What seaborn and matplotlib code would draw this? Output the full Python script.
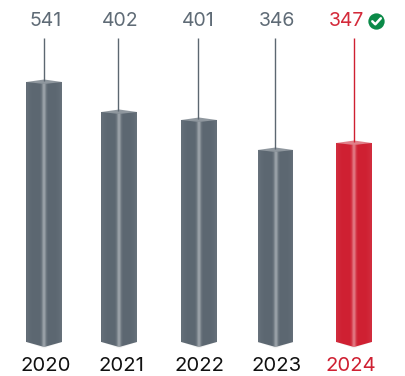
import numpy as np
import pandas as pd
import seaborn as sns
import matplotlib.pyplot as plt
from matplotlib.patches import Polygon

years = ['2020', '2021', '2022', '2023', '2024']
value_labels = ['541', '402', '401', '346', '347']
# the bars are not to scale with the labels, so heights are read off the picture
bar_heights = [260, 230, 222, 192, 199]

GREY = '#5c6771'
RED = '#cf2032'

# layout in pixels
W, H = 405, 376
BASE_Y = 342
AX_BOTTOM = 351
X0, STEP = 44, 77.5
bar_nudge = [0.2, -2.3, 0, -1, 0]
leader_x = [43.5, 118.2, 197.8, 274.7, 354]
label_x = [46, 120.5, 198.5, 277, 346]
year_x = [46, 121, 199, 277, 351]


def to_x(px):
    return (px - X0) / STEP


df = pd.DataFrame({'year': years, 'height': bar_heights})

sns.set_theme(style='white')
plt.rcParams['font.family'] = ['Inter', 'DejaVu Sans']

fig = plt.figure(figsize=(W / 100, H / 100), dpi=100)
ax = fig.add_axes([0, (H - AX_BOTTOM) / H, 1, AX_BOTTOM / H])
ax.patch.set_alpha(0)

colors = [GREY, GREY, GREY, GREY, RED]
sns.barplot(data=df, x='year', y='height', hue='year', palette=colors, order=years,
            hue_order=years, dodge=False, width=35.5 / STEP, saturation=1,
            legend=False, ax=ax, linewidth=0)

ax.set_xlim(to_x(0), to_x(W))
ax.set_ylim(BASE_Y - AX_BOTTOM, BASE_Y)

# white stripe fading out on both sides, used as the bar highlight
stripe = np.zeros((1, 60, 4))
stripe[..., :3] = 1
pos = np.linspace(-1, 1, 60)
stripe[..., 3] = 0.40 * np.exp(-(pos / 0.12) ** 2) + 0.08 * np.abs(pos) ** 6

for i, bar in enumerate(ax.patches):
    bar.set_x(bar.get_x() + bar_nudge[i] / STEP)
    left, right = bar.get_x(), bar.get_x() + bar.get_width()
    mid = (left + right) / 2
    top = bar.get_height()
    color = colors[i]

    # pointed foot under the bar
    foot = Polygon([(left, 0), (mid, -5), (right, 0)], closed=True, fc=color, ec='none', zorder=2)
    ax.add_patch(foot)
    # soft shadow under the foot
    ax.fill([left, mid, right], [0, -6.5, 0], color='#000000', alpha=0.05, lw=0, zorder=1)

    # top face
    cap_color = '#e0808a' if color == RED else '#8f979e'
    ax.add_patch(Polygon([(left, top), (mid, top + 2.5), (right, top), (mid, top - 2)],
                         closed=True, fc=cap_color, ec='none', zorder=4))

    body = Polygon([(left, top), (mid, top - 2), (right, top), (right, 0), (mid, -5), (left, 0)],
                   closed=True, fc='none', ec='none', zorder=3)
    ax.add_patch(body)
    im = ax.imshow(stripe, extent=(left, right, -5, top), aspect='auto', zorder=3, interpolation='bilinear')
    im.set_clip_path(body)

    # leader line and value
    ax.vlines(to_x(leader_x[i]), top + 1, BASE_Y - 38, color=color, lw=1.0, zorder=5)
    ax.text(to_x(label_x[i]), BASE_Y - 21, value_labels[i], ha='center', va='center',
            fontsize=14, color='#d42a3a' if color == RED else '#5f6b76')

ax.set_xlim(to_x(0), to_x(W))
ax.set_ylim(BASE_Y - AX_BOTTOM, BASE_Y)

# green check badge next to the 2024 value
ax.scatter([to_x(376.3)], [BASE_Y - 21.3], s=138, color='#0b8a48', lw=0, zorder=6, clip_on=False)
ax.plot([to_x(372.3), to_x(375.3), to_x(380.8)], [BASE_Y - 21.3, BASE_Y - 24.3, BASE_Y - 18.3],
        color='white', lw=1.8, zorder=7, solid_capstyle='round', solid_joinstyle='round')

ax.set_xticks([to_x(p) for p in year_x])
ax.set_xticklabels(years, fontsize=14.6)
ax.tick_params(axis='x', length=0, pad=4)
for lab, color in zip(ax.get_xticklabels(), ['#111111'] * 4 + [RED]):
    lab.set_color(color)
ax.set_yticks([])
ax.set_xlabel('')
ax.set_ylabel('')
sns.despine(ax=ax, left=True, bottom=True)

fig.savefig('out.png', dpi=100)
